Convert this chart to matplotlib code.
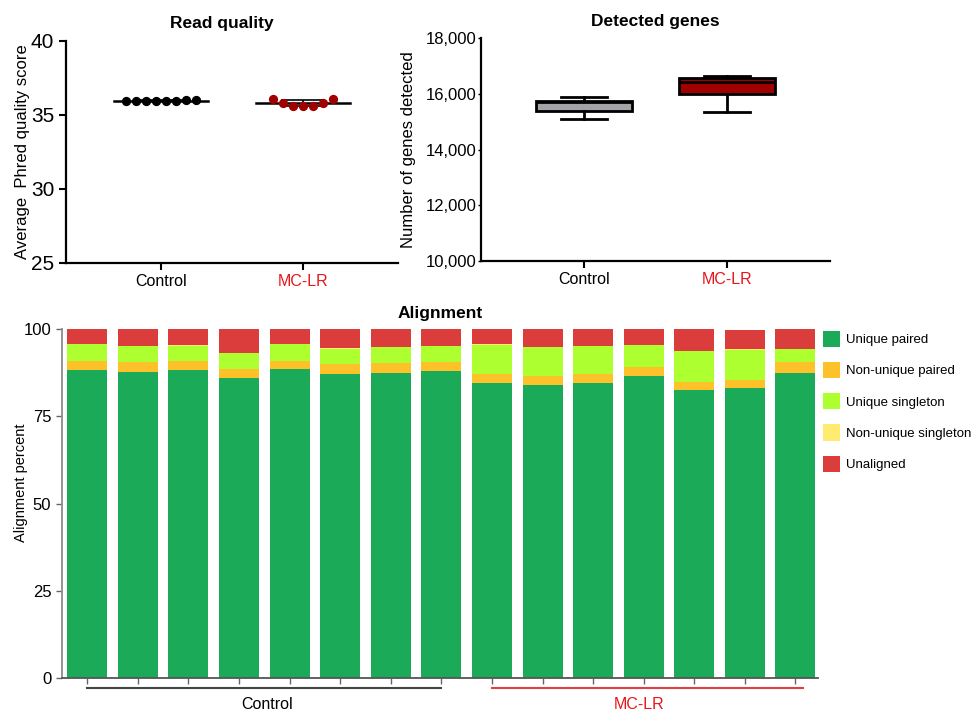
import numpy as np
import matplotlib.pyplot as plt
from matplotlib.patches import Patch

plt.rcParams['font.family'] = ['Liberation Sans', 'DejaVu Sans']

# Read quality (average Phred score per sample)
quality_ctrl = [35.95, 35.95, 35.94, 35.90, 35.92, 35.95, 35.96, 36.02]
quality_mclr = [36.05, 35.78, 35.60, 35.58, 35.60, 35.80, 36.05]

# Detected genes: whislo, q1, median, q3, whishi
genes_ctrl = [15090, 15385, 15700, 15755, 15900]
genes_mclr = [15360, 15995, 16420, 16560, 16655]

groups = ['Control', 'MC-LR']

# Alignment percentages, 15 samples (8 Control, 7 MC-LR)
unique_paired = [88.4, 87.8, 88.3, 86.0, 88.5, 87.2, 87.6, 87.9,
                 84.7, 84.1, 84.7, 86.5, 82.5, 83.3, 87.6]
nonunique_paired = [2.6, 2.7, 2.6, 2.6, 2.5, 2.9, 2.7, 2.6,
                    2.6, 2.6, 2.6, 2.8, 2.4, 2.2, 2.9]
unique_singleton = [4.8, 4.6, 4.4, 4.6, 4.7, 4.3, 4.6, 4.7,
                    8.3, 8.2, 7.9, 6.1, 8.9, 8.7, 3.8]
nonunique_singleton = [0.1, 0.1, 0.1, 0.1, 0.1, 0.1, 0.1, 0.1,
                       0.1, 0.1, 0.1, 0.1, 0.1, 0.1, 0.1]
unaligned = [4.2, 4.9, 4.7, 6.8, 4.3, 5.7, 5.2, 4.7,
             4.4, 5.1, 4.8, 4.6, 6.2, 5.5, 5.7]

layer_names = ['Unique paired', 'Non-unique paired', 'Unique singleton',
               'Non-unique singleton', 'Unaligned']
layer_colors = ['#1BAA57', '#FDC12A', '#ADFF2F', '#FFEB70', '#DB3D3D']

RED = '#E8161B'
DARKRED = '#A00000'

fig = plt.figure(figsize=(9.76, 7.15), dpi=100)


def style_top(ax):
    for s in ['top', 'right']:
        ax.spines[s].set_visible(False)
    for s in ['left', 'bottom']:
        ax.spines[s].set_linewidth(1.6)
    ax.tick_params(axis='y', width=1.5, length=5)
    ax.tick_params(axis='x', width=1.5, length=5)


# ---- Read quality
ax1 = fig.add_axes([0.0676, 0.6326, 0.3402, 0.3105])
style_top(ax1)
for i, (vals, col) in enumerate([(quality_ctrl, 'black'), (quality_mclr, DARKRED)]):
    n = len(vals)
    xs = i + (np.arange(n) - (n - 1) / 2) * 0.07
    m = np.mean(vals)
    sd = np.std(vals, ddof=1)
    ax1.plot([i - 0.33, i + 0.33], [m, m], color='black', lw=1.8, zorder=2)
    ax1.errorbar(i, m, yerr=sd, color='black', lw=1.2, capsize=16,
                 capthick=1.2, zorder=2)
    ax1.scatter(xs, vals, s=32, color=col, zorder=3)
ax1.set_ylim(25, 40)
ax1.set_yticks([25, 30, 35, 40])
ax1.set_xlim(-0.67, 1.67)
ax1.set_xticks([0, 1])
ax1.set_xticklabels(groups, fontsize=11.5)
ax1.get_xticklabels()[1].set_color(RED)
ax1.tick_params(axis='y', labelsize=15)
ax1.set_ylabel('Average  Phred quality score', fontsize=12)
ax1.yaxis.set_label_coords(-0.108, 0.5)
ax1.set_title('Read quality', fontsize=12.5, fontweight='bold', x=0.47, pad=9)

# ---- Detected genes
ax2 = fig.add_axes([0.4928, 0.6354, 0.3576, 0.311])
style_top(ax2)
stats = []
for lab, b in zip(groups, [genes_ctrl, genes_mclr]):
    stats.append(dict(label=lab, whislo=b[0], q1=b[1], med=b[2], q3=b[3], whishi=b[4]))
bp = ax2.bxp(stats, positions=[0, 1], widths=0.67, showfliers=False,
             patch_artist=True,
             boxprops=dict(linewidth=2, edgecolor='black'),
             medianprops=dict(color='black', linewidth=2),
             whiskerprops=dict(linewidth=2),
             capprops=dict(linewidth=2))
bp['caps'][0].set_xdata([-0.16, 0.16])
bp['caps'][1].set_xdata([-0.16, 0.16])
bp['caps'][2].set_xdata([0.84, 1.16])
bp['caps'][3].set_xdata([0.84, 1.16])
bp['boxes'][0].set_facecolor('#A3A3A8')
bp['boxes'][1].set_facecolor(DARKRED)
ax2.set_ylim(10000, 18000)
ax2.set_yticks([10000, 12000, 14000, 16000, 18000])
ax2.set_yticklabels([f'{v:,}' for v in [10000, 12000, 14000, 16000, 18000]])
ax2.set_xlim(-0.72, 1.72)
ax2.set_xticks([0, 1])
ax2.set_xticklabels(groups, fontsize=11.5)
ax2.get_xticklabels()[1].set_color(RED)
ax2.tick_params(axis='y', labelsize=12, length=2, width=1, pad=1)
ax2.set_ylabel('Number of genes detected', fontsize=12)
ax2.yaxis.set_label_coords(-0.186, 0.5)
ax2.set_title('Detected genes', fontsize=12.5, fontweight='bold', pad=9)

# ---- Alignment
ax3 = fig.add_axes([0.0632, 0.0522, 0.7746, 0.4872])
x = np.arange(len(unique_paired))
bottom = np.zeros(len(x))
layers = [unique_paired, nonunique_paired, unique_singleton,
          nonunique_singleton, unaligned]
for vals, col in zip(layers, layer_colors):
    ax3.bar(x, vals, bottom=bottom, width=0.79, color=col)
    bottom = bottom + np.array(vals)
ax3.set_ylim(0, 100)
ax3.set_yticks([0, 25, 50, 75, 100])
ax3.set_xlim(-0.506, 14.44)
ax3.set_xticks(x)
ax3.set_xticklabels([])
for s in ['top', 'right']:
    ax3.spines[s].set_visible(False)
for s in ['left', 'bottom']:
    ax3.spines[s].set_color('#8C8C8C')
    ax3.spines[s].set_linewidth(1.3)
ax3.spines['bottom'].set_color('#555555')
ax3.tick_params(axis='both', color='#666666', length=4, width=1, labelsize=12)
ax3.set_ylabel('Alignment percent', fontsize=10.5)
ax3.yaxis.set_label_coords(-0.0446, 0.56)
ax3.set_title('Alignment', fontsize=12.5, fontweight='bold', pad=8)

tr = ax3.get_xaxis_transform()
ax3.plot([0, 7], [-0.031, -0.031], color='#444444', lw=1.5, transform=tr, clip_on=False)
ax3.plot([8, 14.15], [-0.031, -0.031], color='#E04040', lw=1.5, transform=tr, clip_on=False)
ax3.text(3.55, -0.078, 'Control', transform=tr, ha='center', va='center', fontsize=11.5)
ax3.text(10.9, -0.078, 'MC-LR', transform=tr, ha='center', va='center', fontsize=11.5,
         color=RED)

handles = [Patch(facecolor=c, edgecolor='none') for c in layer_colors]
fig.legend(handles, layer_names, loc='upper left', bbox_to_anchor=(0.838, 0.545),
           frameon=False, fontsize=9.5, handlelength=1.3, handleheight=1.5,
           labelspacing=1.15, handletextpad=0.45, borderaxespad=0)

fig.savefig('out.png', dpi=100)
